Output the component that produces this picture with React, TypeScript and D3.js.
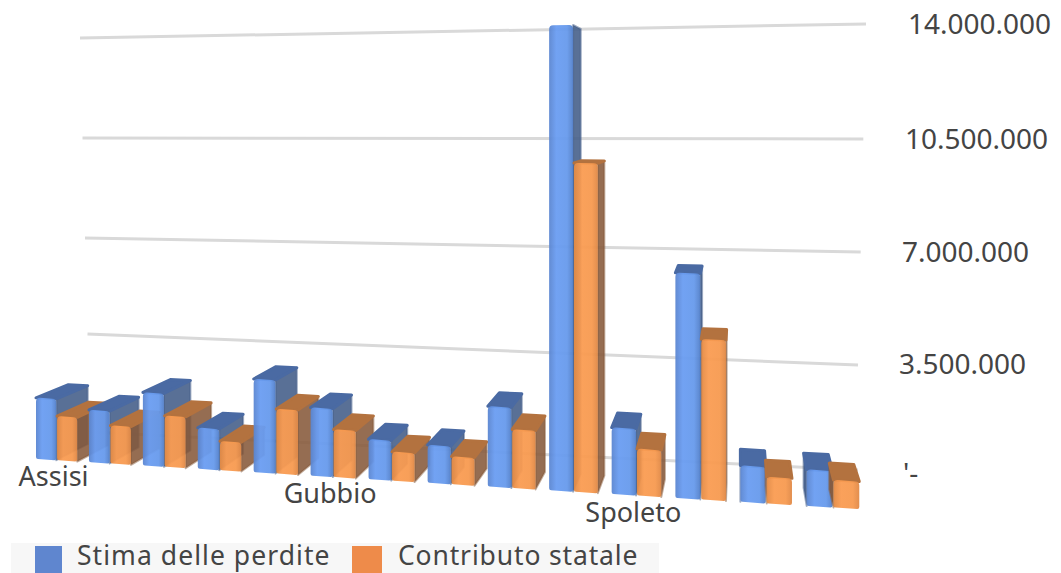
import React from "react";
import * as d3 from "d3";

// Loss estimates and state contributions per municipality, in millions of euro.
const lossEstimate = [2.02, 1.71, 2.37, 1.32, 2.97, 2.15, 1.25, 1.17, 2.46, 14.13, 2.0, 6.71, 1.07, 1.06];
const stateContribution = [1.45, 1.24, 1.65, 0.93, 2.05, 1.5, 0.9, 0.86, 1.79, 9.95, 1.4, 4.76, 0.78, 0.8];
const categoryLabels = [
  { index: 0, name: "Assisi" },
  { index: 5, name: "Gubbio" },
  { index: 10, name: "Spoleto" },
];
const tickValues = [0, 3.5, 7, 10.5, 14];
const tickLabels = ["'-", "3.500.000", "7.000.000", "10.500.000", "14.000.000"];
const seriesNames = ["Stima delle perdite", "Contributo statale"];

const WIDTH = 1061;
const HEIGHT = 573;
const FONT = "'Noto Sans', sans-serif";
const TEXT = "#444444";

// Perspective: slots get wider towards the right, and depth recedes to one vanishing point.
const SKEW = 0.0088;
const slotSpan = 52.5;
const slotX = (u: number) => 36 + (slotSpan * u) / (1 - SKEW * u);
const slotScale = (u: number) => 1 / (1 - SKEW * u);
const floorY = d3.scaleLinear().domain([36, 858]).range([459, 509]);
const heightScale = d3.scaleLinear().domain([0, 1]).range([0, 30.3]);
const VANISH = { x: 740, y: 112 };
const DEPTH = 0.046;

const recede = (x: number, y: number): [number, number] => [
  x + DEPTH * (VANISH.x - x),
  y + DEPTH * (VANISH.y - y),
];

// Back wall gridlines, left and right ends per tick value.
const wallLeftX = d3.scaleLinear().domain([0, 14]).range([90, 80]);
const wallRightX = d3.scaleLinear().domain([0, 3.5, 14]).range([858, 858, 866]);
const wallLeftY = d3.scaleLinear().domain(tickValues).range([432, 334, 238, 138, 38]);
const wallRightY = d3.scaleLinear().domain(tickValues).range([470, 365, 252, 139, 24]);
const labelX = d3.scaleLinear().domain([0, 14]).range([896, 908]);

const poly = (pts: [number, number][]) => {
  const p = d3.path();
  pts.forEach(([x, y], i) => (i ? p.lineTo(x, y) : p.moveTo(x, y)));
  p.closePath();
  return p.toString();
};

// Front face with a bevelled top and slightly softened bottom corners.
const frontPath = (x0: number, x1: number, y0t: number, y1t: number, y0b: number, y1b: number) => {
  const r = 4;
  const s = 2;
  const p = d3.path();
  p.moveTo(x0 + s, y0b);
  p.quadraticCurveTo(x0, y0b, x0, y0b - s);
  p.lineTo(x0, y0t + r);
  p.quadraticCurveTo(x0, y0t, x0 + r, y0t);
  p.lineTo(x1 - r, y1t);
  p.quadraticCurveTo(x1, y1t, x1, y1t + r);
  p.lineTo(x1, y1b - s);
  p.quadraticCurveTo(x1, y1b, x1 - s, y1b);
  p.closePath();
  return p.toString();
};

type Tone = { front: string; top: string; side: string };
const BLUE: Tone = { front: "url(#blueFront)", top: "#4a6aa3", side: "#425c88" };
const ORANGE: Tone = { front: "url(#orangeFront)", top: "#b3723f", side: "#86593a" };

function Bar({ u0, u1, value, tone }: { u0: number; u1: number; value: number; tone: Tone }) {
  const x0 = slotX(u0);
  const x1 = slotX(u1);
  const y0b = floorY(x0);
  const y1b = floorY(x1);
  const y0t = y0b - heightScale(value) * slotScale(u0);
  const y1t = y1b - heightScale(value) * slotScale(u1);
  const tl = recede(x0, y0t);
  const tr = recede(x1, y1t);
  const bl = recede(x0, y0b);
  const br = recede(x1, y1b);
  const showRight = tr[0] > x1;
  const showTop = tl[1] < y0t;
  return (
    <g>
      {showRight ? (
        <path
          d={poly([[x1, y1t], tr, br, [x1, y1b]])}
          fill={tone.side}
          fillOpacity={0.88}
          stroke={tone.side}
          strokeOpacity={0.5}
          strokeWidth={2}
          strokeLinejoin="round"
        />
      ) : (
        <path
          d={poly([[x0, y0t], tl, bl, [x0, y0b]])}
          fill={tone.side}
          fillOpacity={0.92}
          stroke={tone.side}
          strokeOpacity={0.5}
          strokeWidth={2}
          strokeLinejoin="round"
        />
      )}
      {showTop && (
        <path
          d={poly([[x0, y0t], tl, tr, [x1, y1t]])}
          fill={tone.top}
          stroke={tone.top}
          strokeWidth={3}
          strokeLinejoin="round"
        />
      )}
      <path d={frontPath(x0, x1, y0t, y1t, y0b, y1b)} fill={tone.front} fillOpacity={0.95} />
    </g>
  );
}

export default function App() {
  return (
    <svg
      width={WIDTH}
      height={HEIGHT}
      style={{ position: "absolute", left: 0, top: 0, display: "block", background: "#fff" }}
      fontFamily={FONT}
    >
      <defs>
        <linearGradient id="blueFront" x1="0" x2="1" y1="0" y2="0">
          <stop offset="0" stopColor="#5a85d0" />
          <stop offset="0.3" stopColor="#6a9df2" />
          <stop offset="0.75" stopColor="#679aec" />
          <stop offset="1" stopColor="#5380ca" />
        </linearGradient>
        <linearGradient id="orangeFront" x1="0" x2="1" y1="0" y2="0">
          <stop offset="0" stopColor="#e38a44" />
          <stop offset="0.3" stopColor="#fa9c52" />
          <stop offset="0.75" stopColor="#f79a50" />
          <stop offset="1" stopColor="#e08845" />
        </linearGradient>
      </defs>

      {tickValues.map((v) => (
        <line
          key={v}
          x1={wallLeftX(v)}
          y1={wallLeftY(v)}
          x2={wallRightX(v)}
          y2={wallRightY(v)}
          stroke="#d9d9d9"
          strokeWidth={3}
        />
      ))}

      {lossEstimate.map((v, i) => (
        <g key={i}>
          <Bar u0={i} u1={i + 0.385} value={v} tone={BLUE} />
          <Bar u0={i + 0.4} u1={i + 0.78} value={stateContribution[i]} tone={ORANGE} />
        </g>
      ))}

      {tickValues.map((v, i) => (
        <text
          key={v}
          x={labelX(v) + (v === 0 ? 7 : 0)}
          y={[473, 364, 252, 139, 24][i]}
          dy="0.36em"
          fontSize={28}
          fill={TEXT}
        >
          {tickLabels[i]}
        </text>
      ))}

      {categoryLabels.map(({ index, name }) => {
        const x = slotX(index + 0.39);
        return (
          <text key={name} x={x - 3} y={floorY(x) + 26} textAnchor="middle" fontSize={27} fill={TEXT}>
            {name}
          </text>
        );
      })}

      <rect x={11} y={543} width={648} height={30} fill="#f7f7f7" />
      <rect x={35} y={546} width={27} height={27} fill="#5f86cf" />
      <text x={77} y={565} fontSize={26.5} letterSpacing={1.05} fill={TEXT}>
        {seriesNames[0]}
      </text>
      <rect x={352} y={546} width={30} height={27} fill="#ee8b4a" />
      <text x={398} y={565} fontSize={26.5} letterSpacing={0.85} fill={TEXT}>
        {seriesNames[1]}
      </text>
    </svg>
  );
}
